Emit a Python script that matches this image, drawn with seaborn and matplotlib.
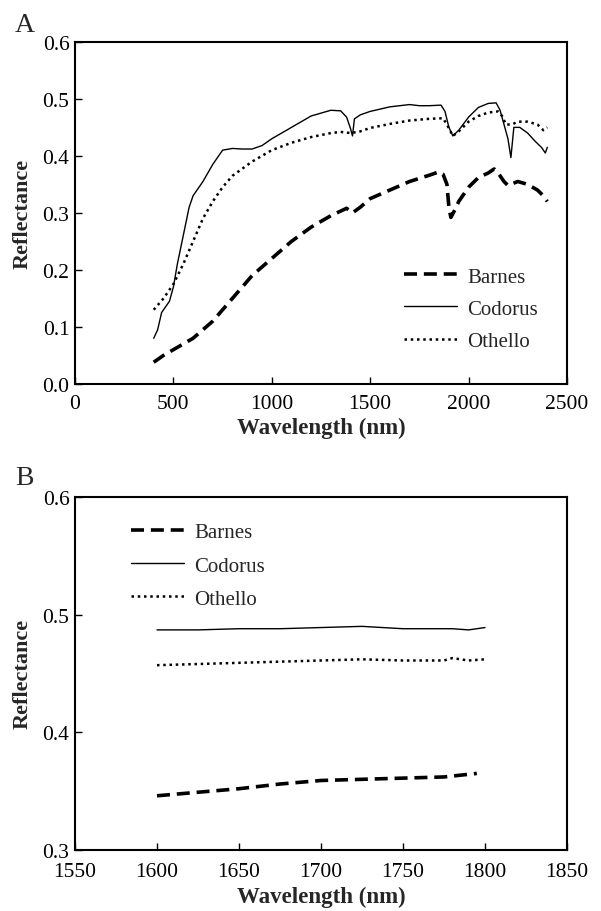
import numpy as np
import pandas as pd
import matplotlib
matplotlib.use("Agg")
import matplotlib.pyplot as plt
import seaborn as sns

# === Panel A: full spectra ===
wl_codorus_a = [400, 420, 440, 460, 480, 500, 520, 550, 580, 600, 650, 700, 750, 800, 850, 900, 950,
                1000, 1100, 1200, 1300, 1350, 1380, 1400, 1410, 1420, 1450, 1500, 1600, 1700, 1750, 1800,
                1860, 1880, 1900, 1920, 1950, 2000, 2050, 2100, 2140, 2160, 2180, 2200, 2215, 2230, 2260,
                2300, 2340, 2370, 2390, 2400]
refl_codorus_a = [0.080, 0.095, 0.125, 0.135, 0.145, 0.170, 0.210, 0.260, 0.310, 0.330, 0.355, 0.385, 0.410,
                  0.413, 0.412, 0.412, 0.418, 0.430, 0.450, 0.470, 0.480, 0.479, 0.468, 0.448, 0.435, 0.465,
                  0.472, 0.478, 0.486, 0.490, 0.488, 0.488, 0.489, 0.478, 0.450, 0.435, 0.445, 0.468, 0.485,
                  0.492, 0.493, 0.480, 0.455, 0.430, 0.397, 0.450, 0.450, 0.440, 0.425, 0.415, 0.405, 0.415]

wl_othello_a = [400, 450, 500, 550, 600, 650, 700, 750, 800, 900, 1000, 1100, 1200, 1300, 1350, 1400, 1450,
                1500, 1600, 1700, 1800, 1870, 1890, 1920, 1950, 2000, 2050, 2100, 2150, 2170, 2190, 2220,
                2250, 2300, 2350, 2380, 2400]
refl_othello_a = [0.130, 0.150, 0.175, 0.210, 0.250, 0.290, 0.320, 0.345, 0.365, 0.390, 0.410, 0.423, 0.433,
                  0.440, 0.442, 0.440, 0.443, 0.449, 0.456, 0.462, 0.465, 0.466, 0.455, 0.435, 0.443, 0.460,
                  0.470, 0.476, 0.478, 0.470, 0.455, 0.455, 0.460, 0.460, 0.455, 0.445, 0.450]

wl_barnes_a = [400, 450, 500, 600, 700, 800, 900, 1000, 1100, 1200, 1300, 1380, 1410, 1450, 1500, 1600,
               1700, 1800, 1850, 1870, 1890, 1900, 1910, 1930, 1950, 2000, 2050, 2100, 2130, 2150, 2180,
               2200, 2250, 2300, 2350, 2380, 2400]
refl_barnes_a = [0.038, 0.050, 0.060, 0.080, 0.110, 0.150, 0.190, 0.220, 0.250, 0.275, 0.295, 0.308, 0.300,
                 0.310, 0.325, 0.340, 0.355, 0.366, 0.372, 0.368, 0.350, 0.310, 0.292, 0.305, 0.320, 0.345,
                 0.362, 0.370, 0.377, 0.370, 0.355, 0.348, 0.355, 0.350, 0.340, 0.330, 0.320]

# === Panel B: 1600-1800 nm ===
wl_codorus_b = [1600, 1625, 1650, 1675, 1700, 1725, 1750, 1780, 1790, 1800]
refl_codorus_b = [0.487, 0.487, 0.488, 0.488, 0.489, 0.490, 0.488, 0.488, 0.487, 0.489]
wl_othello_b = [1600, 1625, 1650, 1675, 1700, 1725, 1750, 1775, 1780, 1790, 1800]
refl_othello_b = [0.457, 0.458, 0.459, 0.460, 0.461, 0.462, 0.461, 0.461, 0.463, 0.461, 0.462]
wl_barnes_b = [1600, 1625, 1650, 1675, 1700, 1725, 1750, 1775, 1795]
refl_barnes_b = [0.346, 0.349, 0.352, 0.356, 0.359, 0.360, 0.361, 0.362, 0.365]

sns.set_theme(style="ticks")
plt.rcParams["font.family"] = ["Liberation Serif", "DejaVu Serif"]

fig = plt.figure(figsize=(6.01, 9.12), dpi=100)
ax_a = fig.add_axes([0.1248, 0.578, 0.8186, 0.375])
ax_b = fig.add_axes([0.1248, 0.067, 0.8186, 0.387])

styles = {
    "Barnes": dict(linestyle=(0, (3.6, 1.9)), linewidth=2.6),
    "Codorus": dict(linestyle="-", linewidth=1.0),
    "Othello": dict(linestyle=(0, (1, 1.5)), linewidth=1.8),
}

def draw(ax, series):
    for name, wl, refl in series:
        df = pd.DataFrame({"wl": wl, "refl": refl})
        sns.lineplot(data=df, x="wl", y="refl", ax=ax, color="black", label=name, **styles[name])

draw(ax_a, [("Barnes", wl_barnes_a, refl_barnes_a),
            ("Codorus", wl_codorus_a, refl_codorus_a),
            ("Othello", wl_othello_a, refl_othello_a)])
draw(ax_b, [("Barnes", wl_barnes_b, refl_barnes_b),
            ("Codorus", wl_codorus_b, refl_codorus_b),
            ("Othello", wl_othello_b, refl_othello_b)])

ax_a.set_xlim(0, 2500)
ax_a.set_ylim(0, 0.6)
ax_a.set_xticks([0, 500, 1000, 1500, 2000, 2500])
ax_a.set_yticks(np.arange(0, 0.61, 0.1))
ax_a.set_yticklabels([f"{v:.1f}" for v in np.arange(0, 0.61, 0.1)])

ax_b.set_xlim(1550, 1850)
ax_b.set_ylim(0.3, 0.6)
ax_b.set_xticks([1550, 1600, 1650, 1700, 1750, 1800, 1850])
ax_b.set_yticks([0.3, 0.4, 0.5, 0.6])
ax_b.set_yticklabels(["0.3", "0.4", "0.5", "0.6"])

for ax, xpad in ((ax_a, 7), (ax_b, 9)):
    for s in ax.spines.values():
        s.set_visible(True)
        s.set_linewidth(1.5)
        s.set_color("black")
    ax.tick_params(direction="in", length=5, width=1, labelsize=15.5, colors="black", pad=4)
    ax.tick_params(axis="x", pad=xpad)
    ax.set_xlabel("Wavelength (nm)", fontsize=16.5, fontweight="bold", labelpad=3)
    ax.set_ylabel("Reflectance", fontsize=16, fontweight="bold", labelpad=7)

ax_a.legend(loc="center left", bbox_to_anchor=(0.652, 0.219), borderaxespad=0, frameon=False,
            fontsize=15, handlelength=2.55, labelspacing=0.6, handletextpad=0.48)
ax_b.legend(loc="center left", bbox_to_anchor=(0.097, 0.805), borderaxespad=0, frameon=False,
            fontsize=15, handlelength=2.55, labelspacing=0.65, handletextpad=0.48)

fig.text(0.025, 0.965, "A", fontsize=20)
fig.text(0.025, 0.468, "B", fontsize=20)

fig.savefig("out.png", dpi=100)
